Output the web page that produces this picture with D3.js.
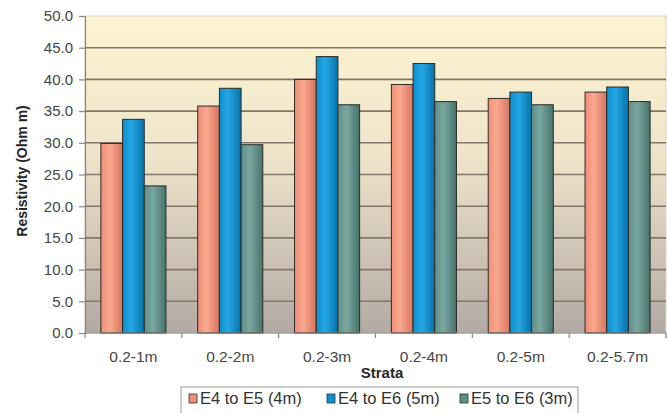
<!DOCTYPE html>
<html>
<head>
<meta charset="utf-8">
<script src="https://cdn.jsdelivr.net/npm/d3@7"></script>
<style>
  html, body { margin: 0; padding: 0; background: #fff; }
  svg { display: block; font-family: "Liberation Sans", Arial, sans-serif; }
</style>
</head>
<body>
<svg id="chart" width="667" height="413"></svg>
<script>
// Resistivity by strata depth for three electrode spacings
const categories = ["0.2-1m", "0.2-2m", "0.2-3m", "0.2-4m", "0.2-5m", "0.2-5.7m"];
const seriesNames = ["E4 to E5 (4m)", "E4 to E6 (5m)", "E5 to E6 (3m)"];
const e4e5 = [29.9, 35.8, 40.0, 39.2, 37.0, 38.0];
const e4e6 = [33.7, 38.6, 43.6, 42.5, 38.0, 38.8];
const e5e6 = [23.2, 29.7, 36.0, 36.5, 36.0, 36.5];
const yTicks = [0, 5, 10, 15, 20, 25, 30, 35, 40, 45, 50];

const seriesValues = [e4e5, e4e6, e5e6];
const colors = ["#f08e76", "#0a8fd0", "#5f9088"];
const lightColors = ["#f9a88f", "#25a7e4", "#79a79f"];
const darkColors = ["#d8755f", "#0673aa", "#46736c"];

const svg = d3.select("#chart");
const margin = { left: 85, top: 16, right: 1, bottom: 80 };
const W = 667;
const plotW = W - margin.left - margin.right;
const plotH = 333 - margin.top;

const defs = svg.append("defs");
const bg = defs.append("linearGradient").attr("id", "bg")
  .attr("x1", 0).attr("y1", 0).attr("x2", 0).attr("y2", 1);
bg.append("stop").attr("offset", "0%").attr("stop-color", "#fdf4d2");
bg.append("stop").attr("offset", "45%").attr("stop-color", "#eee4ca");
bg.append("stop").attr("offset", "100%").attr("stop-color", "#b2a9a4");

colors.forEach((c, i) => {
  const g = defs.append("linearGradient").attr("id", "bar" + i)
    .attr("x1", 0).attr("y1", 0).attr("x2", 1).attr("y2", 0);
  g.append("stop").attr("offset", "0%").attr("stop-color", c);
  g.append("stop").attr("offset", "40%").attr("stop-color", lightColors[i]);
  g.append("stop").attr("offset", "100%").attr("stop-color", darkColors[i]);
});

const g = svg.append("g").attr("transform", `translate(${margin.left},${margin.top})`);

const x = d3.scaleBand().domain(categories).range([0, plotW]).padding(0);
const barW = x.bandwidth() * 0.224;
const groupW = barW * 3;
const y = d3.scaleLinear().domain([0, 50]).range([plotH, 0]);

// plot area background
g.append("rect").attr("x", 0).attr("y", 0).attr("width", plotW).attr("height", plotH)
  .attr("fill", "url(#bg)").attr("stroke", "#d9d4cc").attr("stroke-width", 1);

// horizontal gridlines
g.append("g").selectAll("line").data(yTicks.filter(t => t > 0 && t < 50)).join("line")
  .attr("x1", 0).attr("x2", plotW)
  .attr("y1", d => y(d)).attr("y2", d => y(d))
  .attr("stroke", "#83766a").attr("stroke-width", 1.6);

// bars
const groups = g.append("g").selectAll("g").data(categories).join("g")
  .attr("transform", c => `translate(${x(c) + (x.bandwidth() - groupW) / 2},0)`);
groups.each(function (c, ci) {
  const grp = d3.select(this);
  seriesValues.forEach((vals, si) => {
    grp.append("rect")
      .attr("x", si * barW).attr("y", y(vals[ci]))
      .attr("width", barW).attr("height", plotH - y(vals[ci]))
      .attr("fill", `url(#bar${si})`)
      .attr("stroke", "#2f2a26").attr("stroke-width", 1);
  });
});

// y axis
const yAxis = d3.axisLeft(y).tickValues(yTicks).tickFormat(d3.format(".1f")).tickSize(6).tickPadding(6);
const ya = g.append("g").call(yAxis);
ya.select(".domain").attr("stroke", "#8a8580").attr("stroke-width", 1.2);
ya.selectAll(".tick line").attr("stroke", "#8a8580").attr("stroke-width", 1.2);
ya.selectAll(".tick text").attr("fill", "#454545").style("font-size", "15px")
  .style("font-family", "Liberation Sans, Arial, sans-serif");

// x axis with ticks between categories
const xa = g.append("g").attr("transform", `translate(0,${plotH})`);
xa.append("line").attr("x1", 0).attr("x2", plotW).attr("stroke", "#8a8580").attr("stroke-width", 1.2);
xa.selectAll(".bt").data(categories.concat([null])).join("line")
  .attr("x1", (d, i) => i * x.step()).attr("x2", (d, i) => i * x.step())
  .attr("y1", 0).attr("y2", 5).attr("stroke", "#8a8580").attr("stroke-width", 1.2);
xa.selectAll("text").data(categories).join("text")
  .attr("x", c => x(c) + x.bandwidth() / 2).attr("y", 29)
  .attr("text-anchor", "middle").attr("fill", "#454545").style("font-size", "15.5px")
  .text(c => c);

// axis titles
svg.append("text").attr("x", 382).attr("y", 378)
  .attr("text-anchor", "middle").attr("font-weight", "bold").attr("fill", "#262626")
  .style("font-size", "15px").text("Strata");
svg.append("text")
  .attr("transform", `translate(27,171) rotate(-90)`)
  .attr("text-anchor", "middle").attr("font-weight", "bold").attr("fill", "#262626")
  .style("font-size", "14px").text("Resistivity (Ohm m)");

// legend
const lg = svg.append("g").attr("transform", "translate(181,387)");
lg.append("rect").attr("x", 0).attr("y", 0).attr("width", 397).attr("height", 30)
  .attr("fill", "#fff").attr("stroke", "#9a9a9a").attr("stroke-width", 1);
const legendX = [8, 146, 279];
seriesNames.forEach((name, i) => {
  const item = lg.append("g").attr("transform", `translate(${legendX[i]},7)`);
  item.append("rect").attr("x", 0).attr("y", 0).attr("width", 8).attr("height", 9)
    .attr("fill", colors[i]).attr("stroke", "#333").attr("stroke-width", 0.8);
  item.append("text").attr("x", 11).attr("y", 9.5).attr("fill", "#333")
    .style("font-size", "16.5px").text(name);
});
</script>
</body>
</html>
